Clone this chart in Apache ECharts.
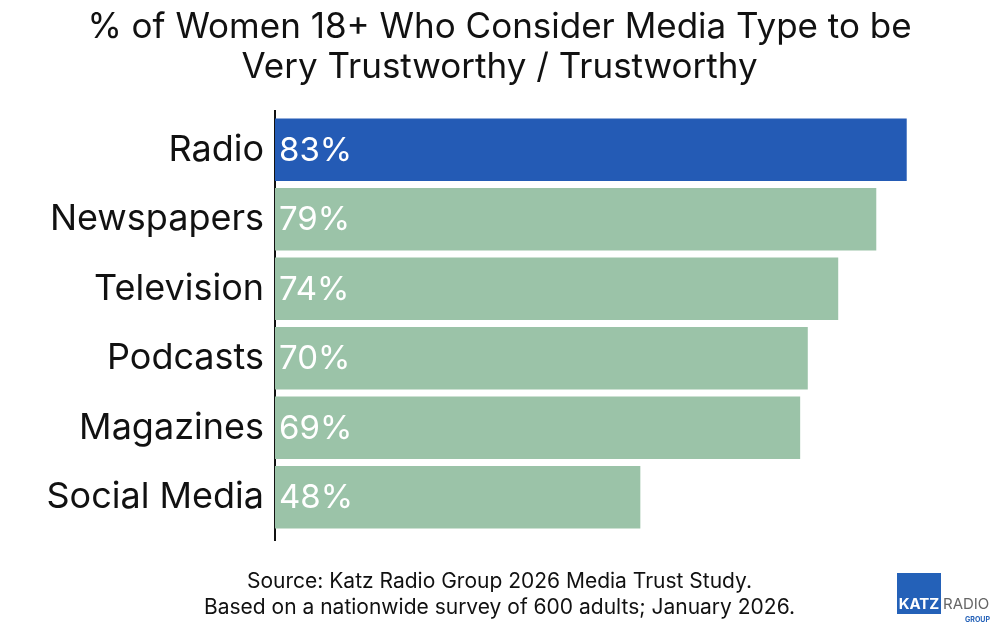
<!DOCTYPE html>
<html>
<head>
<meta charset="utf-8">
<script src="https://cdn.jsdelivr.net/npm/echarts@6/dist/echarts.min.js"></script>
<style>html,body{margin:0;padding:0;background:#fff}#c{width:999px;height:627px}</style>
</head>
<body>
<div id="c"></div>
<script>
const categories = ['Radio', 'Newspapers', 'Television', 'Podcasts', 'Magazines', 'Social Media'];
const values = [83, 79, 74, 70, 69, 48];
const highlight = 'Radio';
const titleText = '% of Women 18+ Who Consider Media Type to be\nVery Trustworthy / Trustworthy';
const sourceText = 'Source: Katz Radio Group 2026 Media Trust Study.\nBased on a nationwide survey of 600 adults; January 2026.';

const FONT = 'Inter, "Noto Sans", sans-serif';
const BLUE = '#245BB5';
const GREEN = '#9BC3A8';

const chart = echarts.init(document.getElementById('c'), null, {renderer: 'canvas'});
chart.setOption({
  animation: false,
  backgroundColor: '#ffffff',
  title: {
    text: titleText,
    left: 'center',
    top: 2,
    textStyle: {fontFamily: FONT, fontSize: 35, fontWeight: 'normal', color: '#111', lineHeight: 40}
  },
  grid: {left: 275, top: 115, width: 685, height: 417, containLabel: false},
  xAxis: {type: 'value', min: 0, max: 90, show: false},
  yAxis: {
    type: 'category',
    data: categories,
    inverse: true,
    axisLine: {show: false},
    axisTick: {show: false},
    axisLabel: {fontFamily: FONT, fontSize: 36, color: '#111', margin: 11}
  },
  series: [{
    type: 'bar',
    data: values.map((v, i) => ({value: v, itemStyle: {color: categories[i] === highlight ? BLUE : GREEN}})),
    barCategoryGap: '10%',
    label: {
      show: true,
      position: 'insideLeft',
      offset: [-1, 1],
      formatter: '{c}%',
      fontFamily: FONT,
      fontSize: 33,
      color: '#ffffff'
    }
  }],
  graphic: [
    {type: 'line', shape: {x1: 275, y1: 110, x2: 275, y2: 541}, style: {stroke: '#111', lineWidth: 2}},
    {type: 'text', left: 'center', top: 569, style: {text: sourceText, fontFamily: FONT, fontSize: 21, fill: '#111', textAlign: 'center', lineHeight: 26}},
    {type: 'rect', shape: {x: 897, y: 573, width: 44, height: 41}, style: {fill: '#2461B8'}},
    {type: 'text', x: 919, y: 612, style: {text: 'KATZ', fontFamily: FONT, fontWeight: 'bold', fontSize: 15, fill: '#fff', textAlign: 'center', textVerticalAlign: 'bottom'}},
    {type: 'text', x: 943, y: 612, style: {text: 'RADIO', fontFamily: FONT, fontSize: 15, fill: '#666', textAlign: 'left', textVerticalAlign: 'bottom'}},
    {type: 'text', x: 990, y: 623, style: {text: 'GROUP', fontFamily: FONT, fontWeight: 'bold', fontSize: 7, fill: '#2461B8', textAlign: 'right', textVerticalAlign: 'bottom'}}
  ]
});
</script>
</body>
</html>
